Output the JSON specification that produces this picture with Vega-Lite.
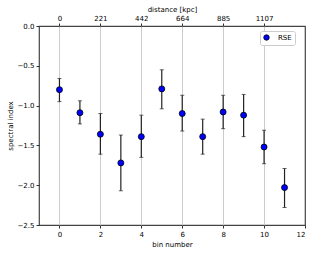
{
  "$schema": "https://vega.github.io/schema/vega-lite/v6.json",
  "width": 266,
  "height": 199,
  "autosize": {"type": "none"},
  "padding": {"left": 39, "top": 26, "right": 11, "bottom": 28},
  "background": "white",
  "config": {
    "font": "DejaVu Sans",
    "view": {"stroke": "#444444", "strokeWidth": 1.2},
    "axis": {
      "labelFont": "DejaVu Sans", "titleFont": "DejaVu Sans",
      "labelFontSize": 7, "titleFontSize": 7, "titleFontWeight": "normal",
      "labelColor": "black", "titleColor": "black",
      "tickColor": "#333333", "tickSize": 3, "domainColor": "black",
      "labelPadding": 2, "labelOverlap": false
    }
  },
  "data": {"values": [
    {"bin": 0, "val": -0.80, "lo": -0.95, "hi": -0.66},
    {"bin": 1, "val": -1.09, "lo": -1.23, "hi": -0.94},
    {"bin": 2, "val": -1.36, "lo": -1.61, "hi": -1.10},
    {"bin": 3, "val": -1.72, "lo": -2.07, "hi": -1.37},
    {"bin": 4, "val": -1.39, "lo": -1.65, "hi": -1.12},
    {"bin": 5, "val": -0.79, "lo": -1.04, "hi": -0.55},
    {"bin": 6, "val": -1.10, "lo": -1.32, "hi": -0.87},
    {"bin": 7, "val": -1.39, "lo": -1.61, "hi": -1.17},
    {"bin": 8, "val": -1.08, "lo": -1.29, "hi": -0.87},
    {"bin": 9, "val": -1.12, "lo": -1.39, "hi": -0.86},
    {"bin": 10, "val": -1.52, "lo": -1.73, "hi": -1.31},
    {"bin": 11, "val": -2.03, "lo": -2.28, "hi": -1.79}
  ]},
  "resolve": {"axis": {"x": "independent", "y": "shared"}},
  "layer": [
    {
      "mark": {"type": "point", "opacity": 0},
      "encoding": {
        "x": {"field": "bin", "type": "quantitative",
          "scale": {"domain": [-1, 12], "nice": false, "zero": false},
          "axis": {"orient": "top", "title": "distance [kpc]", "values": [0, 2, 4, 6, 8, 10],
            "labelExpr": "datum.value == 0 ? '0' : datum.value == 2 ? '221' : datum.value == 4 ? '442' : datum.value == 6 ? '664' : datum.value == 8 ? '885' : '1107'",
            "grid": true, "gridColor": "#cccccc", "gridWidth": 1, "domain": false, "titlePadding": 2,
            "labelColor": "black", "titleColor": "black", "labelOverlap": false}},
        "y": {"field": "val", "type": "quantitative",
          "scale": {"domain": [-2.5, 0], "nice": false, "zero": false},
          "axis": {"title": "spectral index", "values": [-2.5, -2.0, -1.5, -1.0, -0.5, 0.0], "format": ".1f", "grid": false, "domain": false, "titlePadding": 4,
            "labelColor": "black", "titleColor": "black", "labelOverlap": false, "labelBound": false}}
      }
    },
    {
      "mark": {"type": "errorbar", "ticks": {"size": 4, "color": "#222", "thickness": 1}, "rule": {"color": "#222", "strokeWidth": 1.2}},
      "encoding": {
        "x": {"field": "bin", "type": "quantitative",
          "axis": {"orient": "bottom", "title": "bin number", "values": [0, 2, 4, 6, 8, 10, 12], "grid": false, "domain": false, "titlePadding": 3,
            "labelColor": "black", "titleColor": "black", "labelOverlap": false}},
        "y": {"field": "lo", "type": "quantitative",
          "scale": {"domain": [-2.5, 0], "nice": false, "zero": false},
          "axis": {"title": "spectral index", "values": [-2.5, -2.0, -1.5, -1.0, -0.5, 0.0], "format": ".1f", "grid": false, "domain": false, "titlePadding": 4,
            "labelColor": "black", "titleColor": "black", "labelOverlap": false, "labelBound": false}},
        "y2": {"field": "hi"}
      }
    },
    {
      "mark": {"type": "point", "filled": true, "size": 36, "stroke": "black", "strokeWidth": 0.8, "opacity": 1},
      "encoding": {
        "x": {"field": "bin", "type": "quantitative", "axis": {"title": null, "labels": false, "ticks": false, "domain": false, "grid": false}},
        "y": {"field": "val", "type": "quantitative",
          "scale": {"domain": [-2.5, 0], "nice": false, "zero": false},
          "axis": {"title": "spectral index", "values": [-2.5, -2.0, -1.5, -1.0, -0.5, 0.0], "format": ".1f", "grid": false, "domain": false, "titlePadding": 4,
            "labelColor": "black", "titleColor": "black", "labelOverlap": false, "labelBound": false}},
        "color": {"datum": "RSE", "type": "nominal",
          "scale": {"domain": ["RSE"], "range": ["blue"]},
          "legend": {"title": null, "orient": "none", "legendX": 221, "legendY": 5,
            "symbolType": "circle", "symbolSize": 30, "symbolStrokeColor": "black", "symbolStrokeWidth": 0.8,
            "labelFontSize": 7, "labelFont": "DejaVu Sans", "labelColor": "black", "labelOffset": 8,
            "fillColor": "white", "strokeColor": "#cccccc", "cornerRadius": 2, "padding": 3}}
      }
    }
  ]
}
